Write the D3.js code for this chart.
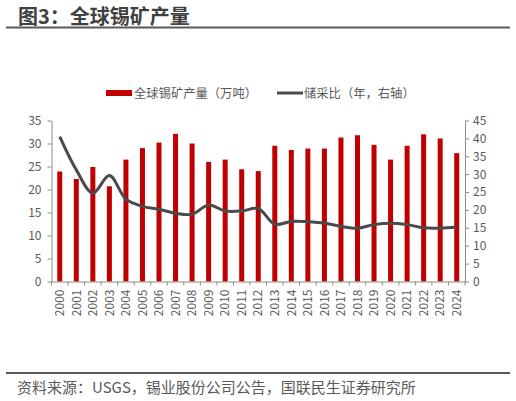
<!DOCTYPE html>
<html>
<head>
<meta charset="utf-8">
<script src="https://cdn.jsdelivr.net/npm/d3@7"></script>
<style>
body{margin:0;background:#fff;}
text{font-family:"Noto Sans CJK SC","Noto Sans",sans-serif;}
</style>
</head>
<body>
<div class="chart"></div>
<script>
var years = ["2000","2001","2002","2003","2004","2005","2006","2007","2008","2009","2010","2011","2012",
    "2013","2014","2015","2016","2017","2018","2019","2020","2021","2022","2023","2024"]
// 全球锡矿产量（万吨）
var output = [23.9,22.3,24.9,20.7,26.5,29.0,30.2,32.1,30.0,26.0,26.5,24.4,24.0,
    29.5,28.6,28.9,28.9,31.3,31.8,29.7,26.5,29.5,32.0,31.1,27.9]
// 储采比（年）
var ratio = [40.5,31.2,24.7,29.6,23.0,21.0,20.2,19.1,18.8,21.4,19.7,19.7,20.4,
    16.0,16.8,16.7,16.3,15.4,14.9,15.9,16.3,15.9,15.0,14.9,15.2]
var leftTicks = [0,5,10,15,20,25,30,35]
var rightTicks = [0,5,10,15,20,25,30,35,40,45]

var W = 516, H = 401
var svg = d3.select(".chart").append("svg").attr("width",W).attr("height",H)

var plotLeft = 51.5, plotRight = 465, plotTop = 120.5, plotBottom = 281.5
var axisColor = "#8c8c8c", textColor = "#595959"

// 标题
svg.append("text").attr("x",18).attr("y",24).text("图3：全球锡矿产量")
    .attr("font-size","20px").attr("font-weight","bold").attr("fill","#404040")
svg.append("line").attr("x1",6).attr("x2",510).attr("y1",27.5).attr("y2",27.5)
    .attr("stroke","#595959").attr("stroke-width",2)

var x = d3.scaleBand().domain(years).range([plotLeft,plotRight])
var yL = d3.scaleLinear().domain([0,35]).range([plotBottom,plotTop])
var yR = d3.scaleLinear().domain([0,45]).range([plotBottom,plotTop])

// bars
var barW = 5
svg.selectAll("rect.bar").data(output).enter().append("rect").attr("class","bar")
    .attr("x",function(d,i){ return x(years[i]) + x.bandwidth()/2 - barW/2 })
    .attr("y",function(d){ return yL(d) })
    .attr("width",barW)
    .attr("height",function(d){ return plotBottom - yL(d) })
    .attr("fill","#c00000")

// line
var line = d3.line()
    .x(function(d,i){ return x(years[i]) + x.bandwidth()/2 })
    .y(function(d){ return yR(d) })
    .curve(d3.curveCatmullRom)
svg.append("path").datum(ratio).attr("d",line)
    .attr("fill","none").attr("stroke","#4a4a4a").attr("stroke-width",3)
    .attr("stroke-linejoin","round")

// axes
function styleAxis(g){
    g.select(".domain").attr("stroke",axisColor)
    g.selectAll(".tick line").attr("stroke",axisColor)
    g.selectAll(".tick text").attr("fill",textColor).attr("font-size","12px")
        .attr("font-family","'Noto Sans CJK SC','Noto Sans',sans-serif")
}
var gL = svg.append("g").attr("transform","translate(" + plotLeft + ",0)")
    .call(d3.axisLeft(yL).tickValues(leftTicks).tickSize(4).tickSizeOuter(0).tickPadding(6))
styleAxis(gL)
var gR = svg.append("g").attr("transform","translate(" + plotRight + ",0)")
    .call(d3.axisRight(yR).tickValues(rightTicks).tickSize(4).tickSizeOuter(0).tickPadding(4))
styleAxis(gR)

var gX = svg.append("g").attr("transform","translate(0," + plotBottom + ")")
    .call(d3.axisBottom(x).tickSize(0).tickSizeOuter(0))
styleAxis(gX)
// 刻度线放在类别之间
gX.selectAll(".tick line").remove()
gX.selectAll("line.sep").data(years.concat(["end"])).enter().append("line").attr("class","sep")
    .attr("x1",function(d,i){ return plotLeft + i*x.step() })
    .attr("x2",function(d,i){ return plotLeft + i*x.step() })
    .attr("y1",0).attr("y2",4).attr("stroke",axisColor)
gX.selectAll(".tick text").attr("transform","rotate(-90)")
    .attr("text-anchor","end").attr("x",-8).attr("y",0).attr("dy","0.35em")

// legend
var lg = svg.append("g").attr("font-size","12.3px")
lg.append("rect").attr("x",106).attr("y",90).attr("width",26).attr("height",6).attr("fill","#c00000")
lg.append("text").attr("x",134).attr("y",97.5).text("全球锡矿产量（万吨）").attr("fill",textColor)
lg.append("line").attr("x1",277).attr("x2",303).attr("y1",93).attr("y2",93)
    .attr("stroke","#4a4a4a").attr("stroke-width",3)
lg.append("text").attr("x",304).attr("y",97.5).text("储采比（年，右轴）").attr("fill",textColor)

// 来源
svg.append("line").attr("x1",6).attr("x2",510).attr("y1",373).attr("y2",373)
    .attr("stroke","#595959").attr("stroke-width",2)
svg.append("text").attr("x",17).attr("y",393).text("资料来源：USGS，锡业股份公司公告，国联民生证券研究所")
    .attr("font-size","15px").attr("fill",textColor)
</script>
</body>
</html>
